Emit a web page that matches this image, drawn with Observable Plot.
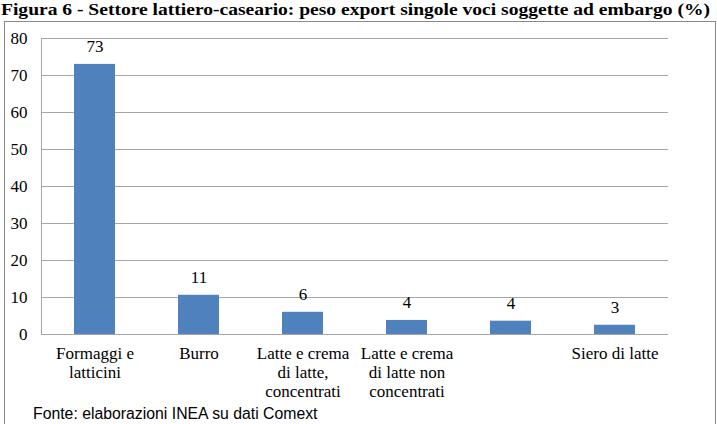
<!DOCTYPE html>
<html>
<head>
<meta charset="utf-8">
<script src="https://cdn.jsdelivr.net/npm/d3@7"></script>
<script src="https://cdn.jsdelivr.net/npm/@observablehq/plot@0.6"></script>
<style>
  html, body { margin: 0; padding: 0; background: #fff; }
  #wrap { position: relative; width: 717px; height: 424px; overflow: hidden; background: #fff; }
  #title { position: absolute; left: 1px; top: 0px; font-family: "Liberation Serif", serif; font-weight: bold; font-size: 17px; line-height: 19px; white-space: nowrap; color: #000; transform-origin: 0 0; }
  #frame { position: absolute; left: 4px; top: 21px; width: 712px; height: 420px; border: 1px solid #8a8a8a; box-sizing: border-box; }
  #chart { position: absolute; left: 0; top: 0; }
  #caption { position: absolute; left: 33px; top: 405px; font-family: "Liberation Sans", Arial, sans-serif; font-size: 15.8px; color: #000; white-space: nowrap; }
</style>
</head>
<body>
<div id="wrap">
  <div id="title">Figura 6 - Settore lattiero-caseario: peso export singole voci soggette ad embargo (%)</div>
  <div id="frame"></div>
  <div id="chart"></div>
  <div id="caption">Fonte: elaborazioni INEA su dati Comext</div>
</div>
<script>
const categories = [
  "Formaggi e\nlatticini",
  "Burro",
  "Latte e crema\ndi latte,\nconcentrati",
  "Latte e crema\ndi latte non\nconcentrati",
  "",
  "Siero di latte"
];
const values = [73, 10.6, 6.0, 3.8, 3.6, 2.5];
const valueLabels = ["73", "11", "6", "4", "4", "3"];
const yTicks = [0, 10, 20, 30, 40, 50, 60, 70, 80];

const data = categories.map((c, i) => ({i, category: c, value: values[i], label: valueLabels[i]}));

const serif = "Liberation Serif";

const chart = Plot.plot({
  width: 717,
  height: 410,
  marginLeft: 41,
  marginRight: 49,
  marginTop: 38,
  marginBottom: 76,
  style: {fontFamily: serif, fontSize: "17px", color: "#000", background: "transparent"},
  x: {domain: data.map(d => d.i), paddingInner: 0.605, paddingOuter: 0.3, align: 0.5, label: null},
  y: {domain: [0, 80], label: null},
  marks: [
    Plot.ruleY(yTicks, {stroke: "#a6a6a6", strokeWidth: 1}),
    Plot.barY(data, {x: "i", y: "value", fill: "#4f81bd"}),
    Plot.text(data, {x: "i", y: "value", text: "label", dy: -18, fontSize: 17, fill: "#000"}),
    Plot.axisX({tickSize: 0, tickPadding: 11, tickFormat: i => categories[i], lineHeight: 1.12, fontSize: 17}),
    Plot.axisY({ticks: yTicks, tickSize: 0, tickPadding: 14, fontSize: 17})
  ]
});

d3.select(chart).selectAll("text, tspan")
  .style("font-family", "'Liberation Serif', 'Times New Roman', serif");

d3.select(chart).append("line")
  .attr("x1", 41.5).attr("x2", 41.5).attr("y1", 38).attr("y2", 334)
  .attr("stroke", "#a6a6a6");

document.getElementById("chart").appendChild(chart);

const t = document.getElementById("title");
const w = t.getBoundingClientRect().width;
t.style.transform = `scaleX(${709 / w})`;
</script>
</body>
</html>
